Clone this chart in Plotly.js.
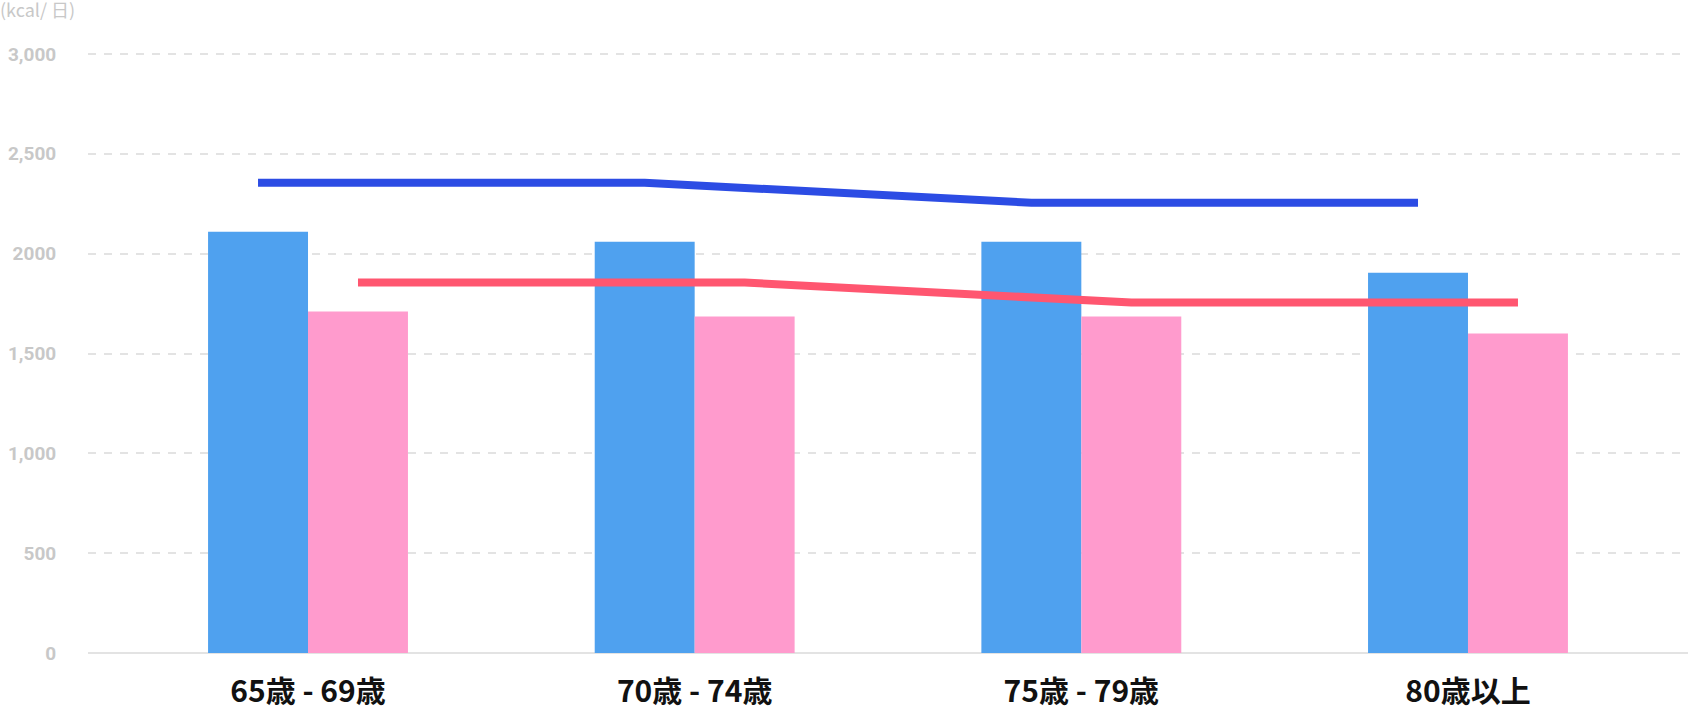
<!DOCTYPE html>
<html>
<head>
<meta charset="utf-8">
<script src="https://cdn.plot.ly/plotly-3.0.1.min.js"></script>
<style>
  html, body { margin: 0; padding: 0; background: #ffffff; }
  #chart { width: 1688px; height: 708px; }
</style>
</head>
<body>
<div id="chart"></div>
<script>
const categories = ["65歳 - 69歳", "70歳 - 74歳", "75歳 - 79歳", "80歳以上"];
const maleBars = [2110, 2060, 2060, 1905];
const femaleBars = [1710, 1685, 1685, 1600];
const maleLine = [2355, 2355, 2255, 2255];
const femaleLine = [1855, 1855, 1755, 1755];
const yTickVals = [0, 500, 1000, 1500, 2000, 2500, 3000];
const yTickText = ["0", "500", "1,000", "1,500", "2000", "2,500", "3,000"];
const unitLabel = "(kcal/ 日)";

const traces = [
  {
    type: "bar", x: categories, y: maleBars, name: "male",
    marker: { color: "#4fa1ef", line: { width: 0 } }, hoverinfo: "skip"
  },
  {
    type: "bar", x: categories, y: femaleBars, name: "female",
    marker: { color: "#ff9bcd", line: { width: 0 } }, hoverinfo: "skip"
  },
  {
    type: "scatter", mode: "lines", x: categories, y: maleLine, name: "male line",
    line: { color: "#2c4ce4", width: 8 }, hoverinfo: "skip"
  },
  {
    type: "scatter", mode: "lines", x: categories, y: femaleLine, name: "female line",
    line: { color: "#ff5670", width: 8 }, hoverinfo: "skip"
  }
];

const layout = {
  width: 1688, height: 708,
  margin: { l: 88, r: 0, t: 52, b: 55, pad: 0 },
  paper_bgcolor: "#ffffff", plot_bgcolor: "#ffffff",
  showlegend: false,
  barmode: "group", bargap: 0.483, bargroupgap: 0,
  scattermode: "group", scattergap: 0.483,
  title: {
    text: unitLabel, x: 0, xref: "container", xanchor: "left",
    y: 1 - 11 / 708, yref: "container", yanchor: "middle",
    font: { family: "Noto Sans CJK JP, Roboto, sans-serif", size: 18, color: "#c8c8c8" }
  },
  xaxis: {
    type: "category", range: [-0.569, 3.569], fixedrange: true,
    showgrid: false, showline: false, zeroline: false,
    ticks: "outside", ticklen: 12, tickcolor: "rgba(0,0,0,0)",
    tickfont: { family: "Noto Sans CJK JP, sans-serif", size: 30, color: "#111111", weight: 700 }
  },
  yaxis: {
    range: [0, 3010], fixedrange: true,
    tickvals: yTickVals, ticktext: yTickText,
    showgrid: true, gridcolor: "#e3e3e3", gridwidth: 2, griddash: "8px,8px",
    zeroline: true, zerolinecolor: "#e3e3e3", zerolinewidth: 2,
    showline: false,
    ticks: "outside", ticklen: 27, tickcolor: "rgba(0,0,0,0)",
    tickfont: { family: "Roboto, Liberation Sans, sans-serif", size: 19, color: "#c8c8c8", weight: 700 }
  }
};

Plotly.newPlot("chart", traces, layout, { displayModeBar: false, staticPlot: true });
</script>
</body>
</html>
